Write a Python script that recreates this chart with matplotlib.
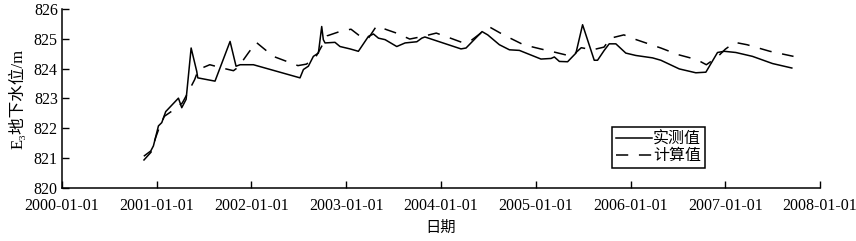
import numpy as np
import matplotlib
matplotlib.use("Agg")
import matplotlib.pyplot as plt

plt.rcParams["font.family"] = ["Liberation Serif", "Noto Sans CJK SC", "DejaVu Sans"]
plt.rcParams["font.size"] = 11

# observed water level (decimal year, m)
obs_t = [2000.870, 2000.937, 2000.965, 2001.018, 2001.053, 2001.095, 2001.229, 2001.264,
         2001.310, 2001.363, 2001.422, 2001.433, 2001.615, 2001.774, 2001.837, 2001.880,
         2002.020, 2002.512, 2002.548, 2002.600, 2002.653, 2002.706, 2002.741, 2002.758,
         2002.776, 2002.881, 2002.934, 2003.040, 2003.128, 2003.234, 2003.287, 2003.340,
         2003.410, 2003.533, 2003.621, 2003.745, 2003.797, 2003.830, 2004.211, 2004.264,
         2004.433, 2004.493, 2004.616, 2004.722, 2004.827, 2005.055, 2005.161, 2005.196,
         2005.249, 2005.336, 2005.424, 2005.494, 2005.617, 2005.652, 2005.722, 2005.775,
         2005.845, 2005.950, 2006.056, 2006.232, 2006.320, 2006.514, 2006.689, 2006.795,
         2006.918, 2006.989, 2007.111, 2007.287, 2007.498, 2007.702]
obs_h = [821.08, 821.24, 821.41, 822.08, 822.19, 822.56, 823.01, 822.69,
         822.97, 824.69, 823.91, 823.69, 823.58, 824.91, 824.08, 824.13,
         824.13, 823.69, 823.97, 824.08, 824.41, 824.52, 825.41, 824.97,
         824.86, 824.88, 824.74, 824.66, 824.58, 825.08, 825.16, 825.02,
         824.97, 824.74, 824.86, 824.90, 825.02, 825.06, 824.66, 824.69,
         825.24, 825.13, 824.80, 824.63, 824.61, 824.32, 824.34, 824.39,
         824.24, 824.23, 824.52, 825.47, 824.28, 824.28, 824.61, 824.83,
         824.83, 824.52, 824.44, 824.36, 824.28, 823.99, 823.86, 823.88,
         824.54, 824.58, 824.54, 824.41, 824.17, 824.02]

# computed water level
cal_t = [2000.86, 2000.94, 2000.99, 2001.03, 2001.08, 2001.18, 2001.27, 2001.33,
         2001.40, 2001.44, 2001.56, 2001.69, 2001.81, 2001.86, 2001.97, 2002.05,
         2002.23, 2002.49, 2002.58, 2002.68, 2002.75, 2002.80, 2002.93, 2003.05,
         2003.14, 2003.23, 2003.32, 2003.43, 2003.53, 2003.67, 2003.81, 2003.95,
         2004.10, 2004.22, 2004.30, 2004.42, 2004.52, 2004.66, 2004.87, 2005.05,
         2005.20, 2005.38, 2005.48, 2005.60, 2005.72, 2005.79, 2005.93, 2006.06,
         2006.32, 2006.50, 2006.70, 2006.80, 2006.92, 2007.00, 2007.10, 2007.23,
         2007.47, 2007.72]
cal_h = [820.92, 821.20, 821.70, 822.05, 822.40, 822.62, 822.85, 823.20,
         823.63, 823.97, 824.13, 824.02, 823.93, 824.05, 824.54, 824.88,
         824.41, 824.10, 824.15, 824.40, 824.80, 825.10, 825.24, 825.32,
         825.10, 825.00, 825.43, 825.30, 825.19, 824.99, 825.08, 825.19,
         825.02, 824.88, 824.90, 825.19, 825.38, 825.13, 824.80, 824.66,
         824.55, 824.41, 824.70, 824.63, 824.72, 825.02, 825.13, 824.97,
         824.69, 824.47, 824.30, 824.13, 824.40, 824.65, 824.88, 824.80,
         824.58, 824.41]

years = list(range(2000, 2009))
year_labels = [f"{y}-01-01" for y in years]

fig = plt.figure(figsize=(8.56, 2.41), dpi=100)
ax = fig.add_axes([0.0724, 0.22, 0.8856, 0.743])

ax.plot(obs_t, obs_h, color="black", linewidth=1.1, label="实测值")
ax.plot(cal_t, cal_h, color="black", linewidth=1.1, linestyle=(0, (8, 7)), label="计算值")

ax.set_xlim(2000, 2008)
ax.set_ylim(820, 826)
ax.set_xticks(years)
ax.set_xticklabels(year_labels)
ax.set_yticks(range(820, 827))
ax.tick_params(direction="in", length=5, width=1, labelsize=11.5)
ax.tick_params(axis="x", pad=7)
ax.tick_params(axis="y", pad=3)
ax.spines["top"].set_visible(False)
ax.spines["right"].set_visible(False)
for s in ("left", "bottom"):
    ax.spines[s].set_linewidth(1.1)

ax.set_xlabel("日期", fontsize=11, labelpad=5)
ax.set_ylabel("E₃地下水位/m", fontsize=12, labelpad=5)

leg = ax.legend(loc="lower left", bbox_to_anchor=(0.726, 0.11), frameon=True,
                fancybox=False, edgecolor="black", framealpha=1,
                handlelength=2.25, handletextpad=0.05, borderpad=0.25,
                labelspacing=0.05, fontsize=11.5, borderaxespad=0)
leg.get_frame().set_linewidth(1.1)

fig.savefig("out.png", dpi=100)
